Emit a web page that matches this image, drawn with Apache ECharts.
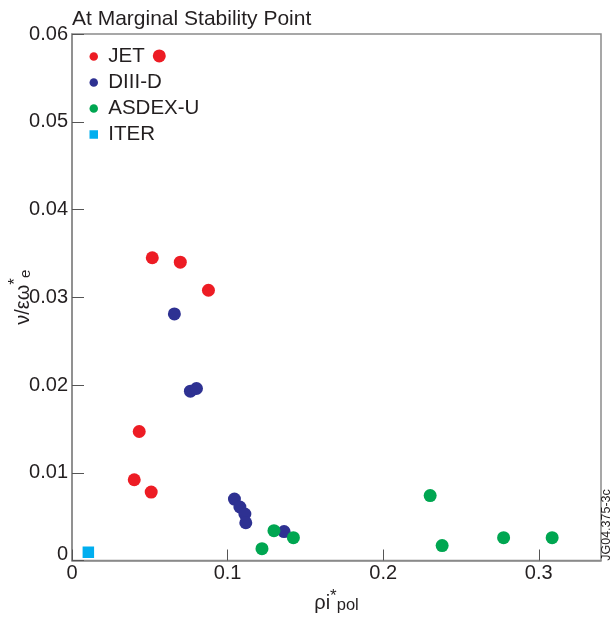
<!DOCTYPE html>
<html>
<head>
<meta charset="utf-8">
<script src="https://cdn.jsdelivr.net/npm/echarts@6/dist/echarts.min.js"></script>
<style>html,body{margin:0;padding:0;background:#fff;}#c{width:612px;height:618px;}</style>
</head>
<body>
<div id="c"></div>
<script>
const titleText = 'At Marginal Stability Point';
const seriesNames = ['JET', 'DIII-D', 'ASDEX-U', 'ITER'];
const jetData = [[0.0561,0.0575],[0.0516,0.0345],[0.0696,0.0340],[0.0877,0.0308],[0.0432,0.0147],[0.0400,0.0092],[0.0509,0.0078]];
const diiidData = [[0.0658,0.0281],[0.0761,0.0193],[0.0800,0.0196],[0.1044,0.0070],[0.1079,0.0061],[0.1111,0.0053],[0.1117,0.0043],[0.1363,0.0033]];
const asdexData = [[0.1221,0.00135],[0.1298,0.0034],[0.1423,0.0026],[0.2302,0.0074],[0.2379,0.0017],[0.2774,0.0026],[0.3086,0.0026]];
const iterData = [[0.0105,0.00094]];
const xTicks = [0, 0.1, 0.2, 0.3];
const yTicks = [0, 0.01, 0.02, 0.03, 0.04, 0.05, 0.06];
const watermark = 'JG04.375-3c';

const font = '"Liberation Sans", Arial, Helvetica, sans-serif';
const ink = '#231f20';
const axisGray = '#8a8a8a';
const colors = ['#ed1c24', '#2e3192', '#00a651', '#00aeef'];

const chart = echarts.init(document.getElementById('c'));
const fmtX = v => { for (const t of xTicks) if (Math.abs(v - t) < 1e-9) return String(t); return ''; };
const fmtY = v => {
  if (Math.abs(v) < 1e-12) return '{z|0}';
  for (const t of yTicks) if (Math.abs(v - t) < 1e-9) return String(t);
  return '';
};

chart.setOption({
  animation: false,
  textStyle: { fontFamily: font },
  title: { text: titleText, left: 67, top: 4, textStyle: { fontFamily: font, fontSize: 21, fontWeight: 'normal', color: ink } },
  grid: { left: 72, right: 11, top: 34, bottom: 57.5, containLabel: false, outerBoundsMode: 'none', show: true, borderColor: axisGray, borderWidth: 1.5, backgroundColor: 'transparent' },
  legend: {
    orient: 'vertical', left: 84.5, top: 41, itemWidth: 19, itemHeight: 8.5, itemGap: 5,
    textStyle: { fontFamily: font, fontSize: 20.5, lineHeight: 20, color: ink },
    data: [
      { name: 'JET', icon: 'circle' },
      { name: 'DIII-D', icon: 'circle' },
      { name: 'ASDEX-U', icon: 'circle' },
      { name: 'ITER', icon: 'path://M0 0h10v10h-10z' }
    ]
  },
  xAxis: {
    type: 'value', min: 0, max: 0.34, interval: 0.1,
    axisLine: { lineStyle: { color: axisGray, width: 1.5 } },
    axisTick: { inside: true, length: 11, lineStyle: { color: '#555', width: 1 } },
    splitLine: { show: false },
    axisLabel: { formatter: fmtX, fontFamily: font, fontSize: 20, color: ink, margin: 3, showMaxLabel: false },
    name: '{a|ρi}{c|*}{d|pol}', nameLocation: 'middle', nameGap: 27, nameMoveOverlap: false,
    nameTextStyle: {
      rich: {
        a: { fontFamily: font, fontSize: 20, color: ink, lineHeight: 26, verticalAlign: 'bottom' },
        c: { fontFamily: font, fontSize: 17, color: ink, lineHeight: 26, verticalAlign: 'top' },
        d: { fontFamily: font, fontSize: 16.5, color: ink, lineHeight: 23, verticalAlign: 'bottom' }
      }
    }
  },
  yAxis: {
    type: 'value', min: 0, max: 0.06, interval: 0.01,
    axisLine: { lineStyle: { color: axisGray, width: 1.5 } },
    axisTick: { inside: true, length: 12, lineStyle: { color: '#555', width: 1 } },
    splitLine: { show: false },
    axisLabel: {
      formatter: fmtY, fontFamily: font, fontSize: 20, color: ink, margin: 4,
      rich: { z: { fontFamily: font, fontSize: 20, color: ink, padding: [0, 0, 12, 0] } }
    },
    name: '{a|ν/εω}{c|*}{d|e}', nameLocation: 'middle', nameGap: 39, nameMoveOverlap: false,
    nameTextStyle: {
      rich: {
        a: { fontFamily: font, fontSize: 20, color: ink, lineHeight: 26, verticalAlign: 'bottom' },
        c: { fontFamily: font, fontSize: 17, color: ink, lineHeight: 26, verticalAlign: 'top' },
        d: { fontFamily: font, fontSize: 15, color: ink, lineHeight: 21, verticalAlign: 'bottom' }
      }
    }
  },
  graphic: [{
    type: 'text', x: 607, y: 525, rotation: Math.PI / 2,
    style: { text: watermark, font: '12.5px ' + font, fill: ink, align: 'center', verticalAlign: 'middle' }
  }],
  series: [
    { name: seriesNames[0], type: 'scatter', data: jetData, symbol: 'circle', symbolSize: 13, itemStyle: { color: colors[0], opacity: 1 } },
    { name: seriesNames[1], type: 'scatter', data: diiidData, symbol: 'circle', symbolSize: 13, itemStyle: { color: colors[1], opacity: 1 } },
    { name: seriesNames[2], type: 'scatter', data: asdexData, symbol: 'circle', symbolSize: 13, itemStyle: { color: colors[2], opacity: 1 } },
    { name: seriesNames[3], type: 'scatter', data: iterData, symbol: 'rect', symbolSize: 11.5, itemStyle: { color: colors[3], opacity: 1 } }
  ]
});
</script>
</body>
</html>
